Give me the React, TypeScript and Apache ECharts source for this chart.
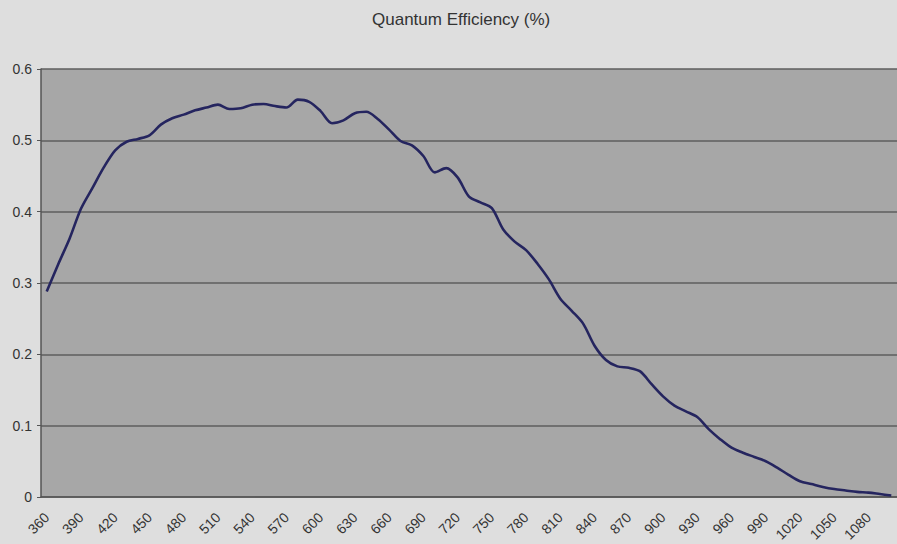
import React, { useEffect, useRef } from "react";
import * as echarts from "echarts";

const wavelengths: string[] = [];
for (let w = 360; w <= 1100; w += 10) wavelengths.push(String(w));

const efficiency: number[] = [
  0.288, 0.326, 0.362, 0.404, 0.433, 0.462, 0.486, 0.498, 0.502, 0.507,
  0.522, 0.531, 0.536, 0.542, 0.546, 0.55, 0.544, 0.545, 0.55, 0.551,
  0.548, 0.546, 0.557, 0.554, 0.541, 0.524, 0.528, 0.538, 0.54, 0.53,
  0.515, 0.499, 0.493, 0.478, 0.455, 0.461, 0.448, 0.421, 0.413, 0.405,
  0.375, 0.358, 0.346, 0.327, 0.305, 0.278, 0.261, 0.243, 0.212, 0.192,
  0.183, 0.181, 0.176, 0.158, 0.141, 0.128, 0.12, 0.112, 0.095, 0.081,
  0.069, 0.062, 0.056, 0.05, 0.041, 0.031, 0.022, 0.018, 0.014, 0.011,
  0.009, 0.007, 0.006, 0.004, 0.002,
];

const titleText = "Quantum Efficiency (%)";
const font = "Liberation Sans, Arial, sans-serif";

export default function App() {
  const ref = useRef<HTMLDivElement>(null);
  useEffect(() => {
    if (!ref.current) return;
    const chart = echarts.init(ref.current, undefined, { renderer: "svg" });
    chart.setOption({
      animation: false,
      backgroundColor: "#dedede",
      title: {
        text: titleText,
        left: 367,
        top: 6,
        textStyle: {
          fontFamily: font,
          fontSize: 17,
          fontWeight: "normal",
          color: "#333",
        },
      },
      grid: {
        left: 41,
        top: 69,
        width: 859.5,
        height: 428,
        show: true,
        backgroundColor: "#a7a7a7",
        borderWidth: 0,
      },
      xAxis: {
        type: "category",
        data: wavelengths,
        boundaryGap: true,
        axisLine: { lineStyle: { color: "#555", width: 1.5 } },
        axisTick: {
          interval: 0,
          alignWithLabel: false,
          length: 4,
          lineStyle: { color: "#666" },
        },
        axisLabel: {
          interval: 2,
          rotate: 45,
          margin: 18,
          fontFamily: font,
          fontSize: 14,
          color: "#333",
        },
        splitLine: { show: false },
      },
      yAxis: {
        type: "value",
        min: 0,
        max: 0.6,
        interval: 0.1,
        axisLine: { show: true, lineStyle: { color: "#555", width: 1.5 } },
        axisTick: { show: true, length: 4, lineStyle: { color: "#555" } },
        axisLabel: {
          margin: 9,
          fontFamily: font,
          fontSize: 14,
          color: "#333",
        },
        splitLine: { lineStyle: { color: "#5e5e5e", width: 1.5 } },
      },
      series: [
        {
          type: "line",
          data: efficiency,
          smooth: 0.3,
          symbol: "none",
          lineStyle: { color: "#25255f", width: 2.6 },
        },
      ],
    });
    return () => chart.dispose();
  }, []);
  return (
    <div
      ref={ref}
      style={{ position: "absolute", left: 0, top: 0, width: 897, height: 544 }}
    />
  );
}
